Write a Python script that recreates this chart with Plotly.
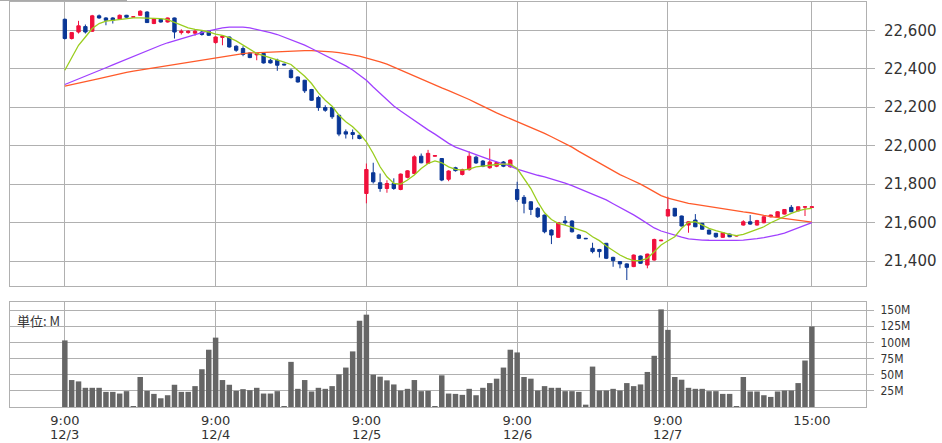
import plotly.graph_objects as go

# ---- data (30-minute slots, 22 slots per trading day) ----
open_ = [22657,22557,22591,22619,22595,22675,22664,22664,22657,22678,22668,22678,22695,22635,22657,22643,22664,22588,22588,22585,22591,22595,
         22536,22563,22565,22517,22505,22482,22472,22479,22444,22444,22424,22392,22357,22340,22292,22250,22198,22198,22158,22072,22068,22054,
         21751,21859,21807,21777,21803,21772,21835,21855,21945,21908,21945,21933,21825,21885,21850,21875,21940,21920,21885,21893,21915,21890,
         21772,21731,21708,21674,21639,21561,21523,21608,21608,21535,21518,21466,21460,21492,21419,21397,21385,21371,21426,21379,21405,21505,
         21634,21674,21634,21587,21613,21596,21561,21544,21523,21540,21530,21587,21604,21587,21599,21630,21627,21644,21679,21661,21680,21678]
high = [22661,22591,22649,22630,22680,22682,22668,22668,22682,22680,22672,22704,22699,22664,22660,22666,22666,22605,22600,22605,22600,22597,
        22568,22574,22567,22522,22517,22485,22482,22484,22452,22452,22426,22400,22360,22342,22295,22259,22210,22200,22160,22084,22084,22056,
        21907,21911,21855,21820,21830,21855,21872,21950,21959,21978,21950,21935,21872,21890,21880,21970,21948,21925,21985,21918,21920,21928,
        21812,21743,21710,21680,21641,21565,21601,21634,21612,21540,21520,21495,21463,21494,21422,21400,21388,21434,21428,21438,21516,21510,
        21734,21676,21636,21608,21644,21598,21563,21546,21549,21542,21534,21612,21639,21614,21632,21641,21659,21670,21691,21684,21684,21682]
low = [22552,22552,22583,22583,22591,22660,22626,22635,22655,22665,22666,22676,22638,22632,22640,22640,22557,22578,22582,22572,22572,22570,
       22530,22522,22510,22488,22465,22455,22444,22427,22427,22389,22418,22349,22328,22274,22233,22181,22176,22139,22049,22037,22033,22033,
       21700,21803,21760,21755,21770,21768,21830,21850,21908,21905,21943,21815,21815,21865,21845,21870,21905,21888,21880,21888,21888,21885,
       21708,21648,21639,21624,21544,21488,21520,21587,21548,21514,21514,21440,21418,21410,21370,21362,21301,21368,21385,21362,21402,21503,
       21632,21632,21580,21547,21576,21563,21538,21520,21520,21524,21528,21584,21588,21584,21596,21627,21624,21642,21654,21658,21634,21676]
close = [22557,22588,22623,22591,22675,22664,22652,22652,22678,22668,22670,22699,22640,22661,22643,22664,22591,22595,22595,22595,22578,22574,
         22565,22569,22513,22496,22474,22458,22479,22430,22430,22418,22420,22354,22331,22285,22236,22198,22184,22150,22060,22060,22058,22037,
         21876,21812,21777,21803,21777,21852,21869,21942,21911,21960,21948,21821,21868,21870,21875,21945,21910,21893,21915,21912,21893,21925,
         21720,21700,21668,21630,21552,21535,21599,21599,21552,21518,21516,21449,21449,21414,21402,21385,21367,21431,21388,21436,21512,21508,
         21668,21634,21582,21604,21578,21565,21540,21526,21547,21526,21532,21604,21592,21610,21630,21639,21656,21668,21656,21682,21682,21682]
volume_m = [103,41.7,39.6,29.7,29.7,29.7,23.4,23.4,20.8,24.5,0.5,46.4,25,20.3,13.5,18.2,34.4,23.4,23.4,32.3,58.4,88.6,
            107.3,41.7,34.4,25,27.6,26,29.7,20.8,20.8,24.5,0.5,69.8,28.1,41.7,24,29.7,28.1,32.3,50.5,61,86,133.4,
            142.8,50,46.9,41.2,34.9,25.5,28.1,41.7,24.5,25,0.5,49,20.8,20.3,18.8,28.1,18.2,29.7,37,43.8,61,88.6,
            84.4,46.4,43.8,25.5,32.3,29.7,29.7,24.5,24.5,23.4,3.6,62.5,25.5,25.5,28.1,25.5,37,32.3,34.9,54.2,79.2,151,
            119.3,46.4,42.2,29.7,28.1,28.1,24.5,24.5,20.3,20.3,1,46.4,24,24,18.2,15.6,24,25.5,25.5,37,71.9,124.5]
ma_short = [22392,22461,22522,22565,22609,22635,22647,22652,22657,22661,22664,22664,22662,22661,22661,22655,22640,22623,22612,22605,22600,22591,
            22580,22574,22562,22545,22522,22499,22479,22468,22458,22444,22434,22422,22392,22361,22323,22274,22236,22205,22158,22124,22098,22063,
            22020,21959,21890,21838,21804,21800,21821,21847,21881,21907,21921,21911,21890,21876,21873,21878,21890,21895,21899,21902,21904,21904,
            21881,21829,21777,21708,21651,21616,21596,21587,21575,21566,21552,21526,21506,21478,21454,21431,21414,21402,21402,21414,21448,21483,
            21505,21526,21570,21601,21604,21587,21570,21558,21547,21539,21532,21539,21552,21565,21578,21599,21616,21634,21648,21661,21670,21674]
ma_mid = [22318,22332,22345,22360,22375,22390,22405,22420,22435,22450,22465,22478,22492,22508,22522,22535,22546,22558,22569,22578,22588,22597,
          22605,22612,22616,22617,22616,22612,22605,22597,22588,22578,22565,22552,22537,22523,22505,22487,22470,22452,22435,22415,22393,22368,
          22340,22305,22272,22238,22206,22180,22155,22128,22105,22082,22060,22035,22012,21992,21978,21965,21952,21940,21927,21916,21904,21893,
          21878,21866,21855,21846,21838,21828,21818,21805,21792,21778,21763,21750,21735,21718,21698,21680,21660,21640,21618,21595,21572,21556,
          21545,21532,21524,21515,21511,21509,21508,21507,21506,21506,21507,21509,21512,21516,21522,21528,21536,21545,21558,21572,21586,21600]
ma_long = [22309,22318,22326,22334,22341,22349,22358,22366,22375,22381,22387,22393,22398,22404,22410,22416,22421,22427,22432,22438,22444,22452,
           22458,22464,22470,22475,22479,22482,22484,22486,22488,22490,22491,22493,22494,22494,22494,22493,22491,22488,22484,22479,22472,22465,
           22456,22446,22436,22424,22408,22392,22376,22360,22344,22328,22314,22300,22286,22272,22257,22240,22222,22204,22186,22170,22155,22140,
           22126,22112,22098,22081,22064,22046,22029,22012,21992,21970,21950,21928,21907,21888,21868,21849,21833,21818,21800,21780,21758,21740,
           21727,21717,21708,21700,21694,21688,21682,21677,21672,21666,21660,21655,21651,21643,21637,21631,21626,21622,21617,21612,21607,21602]
x_tick_pos = [0, 22, 44, 66, 88, 109]
x_tick_time = ["9:00", "9:00", "9:00", "9:00", "9:00", "15:00"]
date_pos = [0, 22, 44, 66, 88]
date_text = ["12/3", "12/4", "12/5", "12/6", "12/7"]
price_ticks = [21400, 21600, 21800, 22000, 22200, 22400, 22600]
vol_ticks = [25, 50, 75, 100, 125, 150]
vol_tick_text = ["25M", "50M", "75M", "100M", "125M", "150M"]

idx = list(range(len(close)))

UP = "#f0103c"
DOWN = "#0a3796"
GRID = "#b0b0b0"
FONT = "DejaVu Sans"
TXT = "#333333"

fig = go.Figure()
fig.add_trace(go.Candlestick(
    x=idx, open=open_, high=high, low=low, close=close,
    increasing=dict(line=dict(color=UP, width=1), fillcolor=UP),
    decreasing=dict(line=dict(color=DOWN, width=1), fillcolor=DOWN),
    whiskerwidth=0, xaxis="x", yaxis="y", showlegend=False))
for vals, col in [(ma_long, "#ff5a2a"), (ma_mid, "#a040ff"), (ma_short, "#9acd1e")]:
    fig.add_trace(go.Scatter(x=idx, y=vals, mode="lines", line=dict(color=col, width=1.3),
                             xaxis="x", yaxis="y", showlegend=False))
fig.add_trace(go.Bar(x=idx, y=volume_m, marker=dict(color="#666666", line=dict(width=0)),
                     xaxis="x2", yaxis="y2", showlegend=False))

H_PLOT = 405.0
axis_common = dict(showgrid=True, gridcolor=GRID, gridwidth=1, showline=True, mirror=True,
                   linecolor=GRID, linewidth=1, zeroline=False, automargin=False)
fig.update_layout(
    width=942, height=443,
    margin=dict(l=10, r=76, t=2, b=36),
    paper_bgcolor="white", plot_bgcolor="white",
    font=dict(family=FONT, color=TXT),
    bargap=0.2,
    xaxis=dict(domain=[0, 1], anchor="y", range=[-8, 116.9], tickvals=x_tick_pos,
               showticklabels=False, ticks="", rangeslider=dict(visible=False), **axis_common),
    yaxis=dict(domain=[(407 - 286) / H_PLOT, 1], anchor="x", side="right", range=[21270, 22747],
               tickvals=price_ticks, tickformat=",d", ticks="outside", ticklen=8, tickcolor=GRID,
               ticklabelstandoff=6,
               tickfont=dict(size=15, family=FONT, color=TXT), **axis_common),
    xaxis2=dict(domain=[0, 1], anchor="y2", range=[-8, 116.9], matches="x", tickvals=x_tick_pos,
                ticktext=x_tick_time, ticks="", ticklabelstandoff=1,
                tickfont=dict(size=13, family=FONT, color=TXT),
                **axis_common),
    yaxis2=dict(domain=[0, (407 - 302) / H_PLOT], anchor="x2", side="right", range=[0, 162.4],
                tickvals=vol_ticks, ticktext=vol_tick_text, ticks="outside", ticklen=7, tickcolor=GRID,
                ticklabelstandoff=4,
                tickfont=dict(size=12, family="DejaVu Sans Condensed, Liberation Sans Narrow, DejaVu Sans",
                              color=TXT), **axis_common),
)
for xp, t in zip(date_pos, date_text):
    fig.add_annotation(text=t, xref="x2", yref="paper", x=xp, y=(407 - 434.5) / H_PLOT,
                       xanchor="center", yanchor="middle", showarrow=False, borderpad=0,
                       font=dict(size=13, family=FONT, color=TXT))
fig.add_annotation(text="単位: M", xref="paper", yref="paper", x=0.006, y=(407 - 320) / H_PLOT,
                   xanchor="left", yanchor="middle", showarrow=False,
                   font=dict(size=13, family="Noto Sans CJK JP, DejaVu Sans", color=TXT))
fig.add_shape(type="line", xref="paper", yref="paper", x0=-10 / 856, x1=(127 - 10) / 856,
              y0=(407 - 0.5) / H_PLOT, y1=(407 - 0.5) / H_PLOT, line=dict(color="#aaaaaa", width=1))

fig.write_html("out.html", config={"displayModeBar": False},
               post_script="document.body.style.margin='0';")
